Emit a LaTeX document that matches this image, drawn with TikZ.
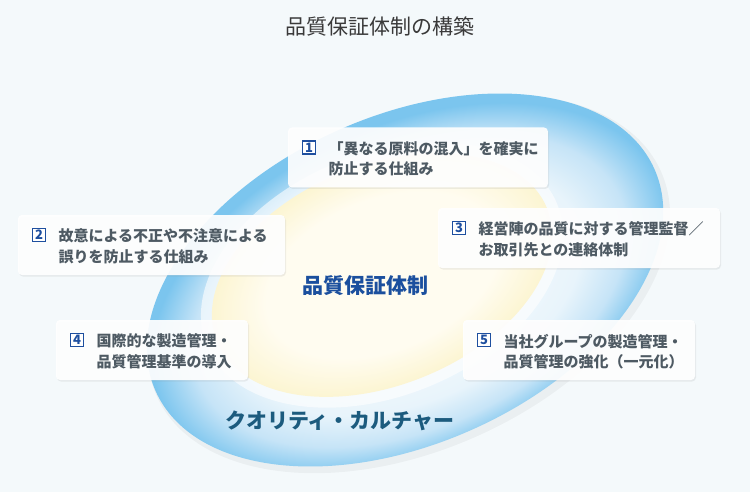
\documentclass[tikz,border=0pt]{standalone}
\usepackage{fontspec}
\setmainfont{Noto Sans CJK JP}
\usepackage{xcolor}
\usetikzlibrary{positioning, shadows}

\definecolor{bgcol}{HTML}{F4F9FB}
\definecolor{cultureblue}{HTML}{7BC5EE}
\definecolor{culturemid}{HTML}{C6E4F7}
\definecolor{culturepale}{HTML}{E8F4FB}
\definecolor{qayellow}{HTML}{FCF5D2}
\definecolor{qacore}{HTML}{FFFCF0}
\definecolor{itemgray}{HTML}{4E5A63}
\definecolor{numblue}{HTML}{1E4F9F}
\definecolor{qablue}{HTML}{1B4F9E}
\definecolor{culturetext}{HTML}{1C5B7E}
\definecolor{titlegray}{HTML}{3A3A3A}

\pgfdeclareradialshading{culture}{\pgfpoint{0bp}{-3bp}}{color(0bp)=(white); color(16.5bp)=(culturepale); color(21bp)=(culturemid); color(25bp)=(cultureblue); color(50bp)=(cultureblue)}
\pgfdeclareradialshading{qazone}{\pgfpoint{0bp}{0bp}}{color(0bp)=(qacore); color(17bp)=(qacore); color(25bp)=(qayellow); color(50bp)=(qayellow)}

\begin{document}
\begin{tikzpicture}[x=1pt, y=-1pt,
    itembox/.style={fill=white, fill opacity=0.92, rounded corners=4pt,
        drop shadow={opacity=0.13, shadow xshift=1pt, shadow yshift=-1.5pt},
        minimum height=60pt, inner sep=0pt},
    numsq/.style={draw=numblue, line width=1.5pt, fill=white, text=numblue,
        minimum size=13pt, inner sep=0pt, font=\fontsize{13}{13}\selectfont\bfseries},
    itemtext/.style={text=itemgray, align=left, inner sep=0pt,
        font=\fontsize{15}{20.5}\selectfont\bfseries},
]
\useasboundingbox (0,0) rectangle (750,492);
\fill[bgcol] (0,0) rectangle (750,492);

% quality culture / quality assurance
\begin{scope}[transform canvas={shift={(405,280)}, rotate=24}]
    \fill[black, opacity=0.04] (2,5) ellipse [x radius=276, y radius=167];
    \shade[shading=culture] (0,0) ellipse [x radius=273, y radius=164];
\end{scope}
\begin{scope}[transform canvas={shift={(382,275)}, rotate=22}]
    \fill[white, opacity=0.6] (0,0) ellipse [x radius=189, y radius=121];
    \shade[shading=qazone] (0,0) ellipse [x radius=178, y radius=110];
\end{scope}

\node[text=titlegray, font=\fontsize{21}{21}\selectfont] (title) at (380,27) {品質保証体制の構築};
\node[text=qablue, font=\fontsize{21}{21}\selectfont\bfseries] (qa) at (365,286) {品質保証体制};
\node[text=culturetext, font=\fontsize{21}{21}\selectfont\bfseries] (culture) at (340,421) {クオリティ・カルチャー};

\node[itembox, minimum width=260pt] (b1) at (418,157.5) {};
\node[itembox, minimum width=267pt] (b2) at (151.5,245) {};
\node[itembox, minimum width=282pt] (b3) at (579,238) {};
\node[itembox, minimum width=192pt] (b4) at (152,350) {};
\node[itembox, minimum width=232pt] (b5) at (579,350) {};

\node[numsq, below right=13pt and 14pt of b1.north west] (n1) {1};
\node[numsq, below right=13pt and 14pt of b2.north west] (n2) {2};
\node[numsq, below right=13pt and 14pt of b3.north west] (n3) {3};
\node[numsq, below right=13pt and 14pt of b4.north west] (n4) {4};
\node[numsq, below right=13pt and 14pt of b5.north west] (n5) {5};

\node[itemtext, right=12pt of n1.north east, anchor=north west, yshift=-1pt] (t1) {「異なる原料の混入」を確実に\\防止する仕組み};
\node[itemtext, right=12pt of n2.north east, anchor=north west, yshift=-1pt] (t2) {故意による不正や不注意による\\誤りを防止する仕組み};
\node[itemtext, right=12pt of n3.north east, anchor=north west, yshift=-1pt] (t3) {経営陣の品質に対する管理監督／\\お取引先との連絡体制};
\node[itemtext, right=12pt of n4.north east, anchor=north west, yshift=-1pt] (t4) {国際的な製造管理・\\品質管理基準の導入};
\node[itemtext, right=12pt of n5.north east, anchor=north west, yshift=-1pt] (t5) {当社グループの製造管理・\\品質管理の強化（一元化）};
\end{tikzpicture}
\end{document}
